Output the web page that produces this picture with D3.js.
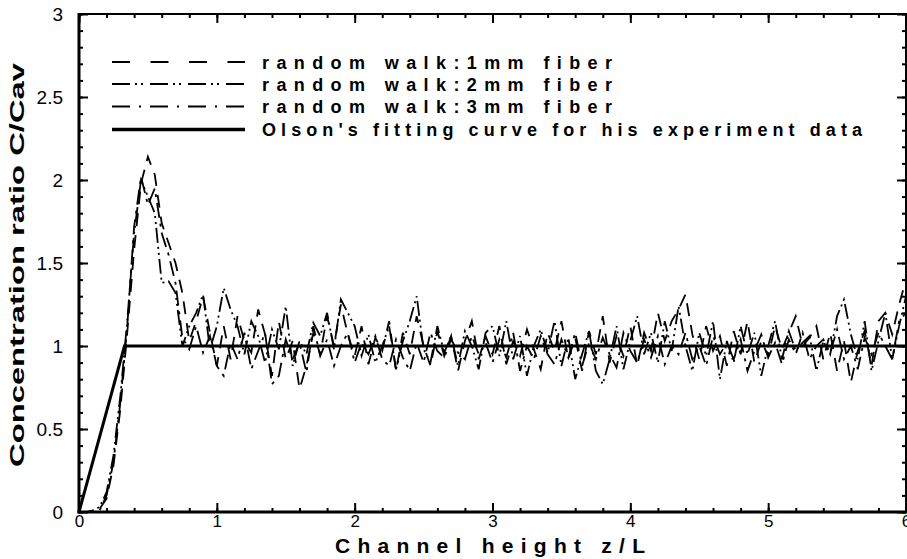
<!DOCTYPE html>
<html><head><meta charset="utf-8">
<script src="https://cdn.jsdelivr.net/npm/d3@7"></script>
<style>
body{margin:0;background:#fff;}
svg{display:block;}
</style></head>
<body>
<svg id="c" width="907" height="559"></svg>
<script>
const zValues = [0,0.05,0.1,0.15,0.2,0.25,0.3,0.35,0.4,0.45,0.5,0.55,0.6,0.65,0.7,0.75,0.8,0.85,0.9,0.95,
1,1.05,1.1,1.15,1.2,1.25,1.3,1.35,1.4,1.45,1.5,1.55,1.6,1.65,1.7,1.75,1.8,1.85,1.9,1.95,
2,2.05,2.1,2.15,2.2,2.25,2.3,2.35,2.4,2.45,2.5,2.55,2.6,2.65,2.7,2.75,2.8,2.85,2.9,2.95,
3,3.05,3.1,3.15,3.2,3.25,3.3,3.35,3.4,3.45,3.5,3.55,3.6,3.65,3.7,3.75,3.8,3.85,3.9,3.95,
4,4.05,4.1,4.15,4.2,4.25,4.3,4.35,4.4,4.45,4.5,4.55,4.6,4.65,4.7,4.75,4.8,4.85,4.9,4.95,
5,5.05,5.1,5.15,5.2,5.25,5.3,5.35,5.4,5.45,5.5,5.55,5.6,5.65,5.7,5.75,5.8,5.85,5.9,5.95,6];

const walk1mm = [0,0,0,0.02,0.08,0.28,0.62,1.08,1.58,1.98,2.14,2.03,1.74,1.62,1.5,1.32,
1.03,1.15,1.3,1.08,
0.88,1.12,0.92,1.18,1.03,0.96,1.22,1.07,0.82,1.15,0.92,1.03,0.74,0.88,1.08,0.95,1.18,1.0,1.25,1.07,
0.94,1.12,0.89,1.05,0.97,1.15,0.85,1.08,0.95,1.18,1.0,0.88,1.09,0.94,1.06,0.85,1.03,1.15,0.92,1.06,
0.95,1.12,0.89,1.03,0.94,1.1,0.98,0.86,1.08,0.97,1.15,0.92,1.05,0.85,1.09,0.95,1.18,0.9,1.06,0.94,
1.12,0.88,1.08,0.97,1.2,1.03,1.15,1.22,1.31,1.07,0.92,1.12,0.97,1.06,0.88,1.09,0.95,1.15,0.9,1.03,
0.94,1.12,0.98,1.08,1.18,1.0,1.05,1.12,0.92,1.08,0.85,1.03,0.78,0.97,1.09,0.88,1.15,1.2,1.07,1.25,1.4];

const walk2mm = [0,0,0.01,0.03,0.12,0.34,0.7,1.15,1.68,2.0,1.9,1.8,1.38,1.39,1.32,1.0,
1.12,1.2,1.31,0.98,
1.12,1.35,1.22,1.12,0.95,1.15,1.06,0.9,1.1,0.98,1.24,0.88,1.03,0.95,1.14,1.06,1.2,0.98,1.28,1.2,
1.12,0.94,1.07,0.9,1.0,1.12,0.86,1.03,1.15,1.3,0.98,0.9,1.12,0.96,1.06,0.88,1.09,1.0,0.86,1.08,
1.12,0.94,1.15,0.92,1.06,0.82,1.0,1.1,0.96,1.15,0.88,1.05,0.8,0.95,1.09,0.85,0.77,0.92,1.12,0.86,
1.03,1.18,0.95,1.08,0.9,1.15,0.97,1.24,1.0,0.85,1.08,0.94,1.15,0.8,1.03,0.9,1.12,0.95,1.08,0.82,
1.0,1.15,0.92,1.09,0.97,1.02,1.06,0.85,1.03,0.95,1.18,1.28,1.07,0.92,1.15,0.85,1.03,1.2,0.92,1.12,1.3];

const walk3mm = [0,0,0,0.01,0.1,0.3,0.66,1.12,1.72,2.02,1.85,1.95,1.68,1.55,1.38,1.05,
0.98,1.12,0.96,1.06,
0.88,0.82,1.02,0.92,1.08,0.86,0.97,1.08,0.77,0.82,1.04,0.92,1.02,0.84,1.12,0.94,1.04,0.88,1.0,1.08,
0.9,1.02,0.95,1.06,0.92,0.88,1.04,0.93,0.85,1.02,0.9,1.08,0.97,0.93,1.04,0.96,0.92,1.06,0.95,1.02,
0.9,1.04,0.93,1.08,0.85,1.0,0.92,1.06,0.95,0.89,1.04,0.93,1.08,0.88,1.02,0.92,1.05,0.95,0.87,1.08,
0.97,0.9,1.04,0.93,1.06,0.89,1.0,0.95,1.08,0.92,1.0,0.88,1.06,0.95,1.02,0.92,1.04,0.85,0.97,1.07,
0.93,1.02,0.89,1.04,0.95,1.08,0.92,1.0,1.04,0.96,1.1,0.92,1.0,0.86,1.05,0.95,1.08,1.0,0.92,1.15,1.2];

const olsonZ = [0, 0.33, 6];
const olsonC = [0, 1, 1];

const xTicks = [0,1,2,3,4,5,6];
const yTicks = [0,0.5,1,1.5,2,2.5,3];
const yTickLabels = ["0","0.5","1","1.5","2","2.5","3"];

const legendLabels = ["random walk:1mm fiber","random walk:2mm fiber","random walk:3mm fiber","Olson's fitting curve for his experiment data"];

const svg = d3.select("#c");
const L = 79, R = 906, T = 14, B = 512;
const x = d3.scaleLinear().domain([0,6]).range([L,R]);
const y = d3.scaleLinear().domain([0,3]).range([B,T]);
const font = "'Liberation Sans Narrow','Liberation Sans',Arial,sans-serif";
const boldFont = "'Liberation Sans',Arial,sans-serif";

const plotDash = ["13,9", "15,4,2,4,2,4", "15,6,3,6", null];
const legDash = ["18,20.5", "18,5,2,4,2,7", "18,9,2,9", null];

const g = svg.append("g");

// data lines
const line = d3.line().x(d=>x(d[0])).y(d=>y(d[1]));
const series = [walk1mm, walk2mm, walk3mm];
series.forEach((s,i)=>{
  g.append("path").datum(zValues.map((z,j)=>[z,s[j]]))
   .attr("d", line).attr("fill","none").attr("stroke","#000")
   .attr("stroke-width",1.8).attr("stroke-dasharray", plotDash[i]);
});
g.append("path").datum(olsonZ.map((z,j)=>[z,olsonC[j]]))
 .attr("d", line).attr("fill","none").attr("stroke","#000").attr("stroke-width",3);

// axes
const minorX = d3.range(0, 6.0001, 0.2);
const minorY = d3.range(0, 3.0001, 0.1);
function styleAxis(sel){ sel.select(".domain").remove(); sel.selectAll("line").attr("stroke","#000").attr("stroke-width",2); }

svg.append("g").attr("transform",`translate(0,${B})`)
  .call(d3.axisBottom(x).tickValues(minorX).tickSize(-4).tickFormat("")).call(styleAxis);
svg.append("g").attr("transform",`translate(0,${B})`)
  .call(d3.axisBottom(x).tickValues(xTicks).tickSize(-9).tickPadding(3).tickFormat(d3.format("d")))
  .call(styleAxis)
  .call(s=>s.selectAll("text").attr("font-family",font).attr("font-size",17).attr("fill","#000"));
svg.append("g").attr("transform",`translate(0,${T})`)
  .call(d3.axisTop(x).tickValues(minorX).tickSize(-4).tickFormat("")).call(styleAxis);
svg.append("g").attr("transform",`translate(0,${T})`)
  .call(d3.axisTop(x).tickValues(xTicks).tickSize(-9).tickFormat("")).call(styleAxis);

svg.append("g").attr("transform",`translate(${L},0)`)
  .call(d3.axisLeft(y).tickValues(minorY).tickSize(-4).tickFormat("")).call(styleAxis);
svg.append("g").attr("transform",`translate(${L},0)`)
  .call(d3.axisLeft(y).tickValues(yTicks).tickSize(-9).tickPadding(16).tickFormat((d,i)=>yTickLabels[i]))
  .call(styleAxis)
  .call(s=>s.selectAll("text").attr("font-family",font).attr("font-size",19).attr("fill","#000"));
svg.append("g").attr("transform",`translate(${R},0)`)
  .call(d3.axisRight(y).tickValues(minorY).tickSize(-4).tickFormat("")).call(styleAxis);
svg.append("g").attr("transform",`translate(${R},0)`)
  .call(d3.axisRight(y).tickValues(yTicks).tickSize(-9).tickFormat("")).call(styleAxis);

// frame
svg.append("line").attr("x1",L).attr("x2",L).attr("y1",T-1).attr("y2",B+1.5).attr("stroke","#000").attr("stroke-width",3);
svg.append("line").attr("x1",L-1.5).attr("x2",R+1).attr("y1",B).attr("y2",B).attr("stroke","#000").attr("stroke-width",3);
svg.append("line").attr("x1",L).attr("x2",R+1).attr("y1",T).attr("y2",T).attr("stroke","#000").attr("stroke-width",2);
svg.append("line").attr("x1",R).attr("x2",R).attr("y1",T).attr("y2",B).attr("stroke","#000").attr("stroke-width",2);

// legend
const legY = [62, 84, 106.5, 129.5];
const legWidths = [350, 350, 350, 600];
legendLabels.forEach((lab,i)=>{
  svg.append("line").attr("x1",112).attr("x2",245).attr("y1",legY[i]).attr("y2",legY[i])
    .attr("stroke","#000").attr("stroke-width", i===3?3.5:2)
    .attr("stroke-dasharray", legDash[i]);
  svg.append("text").attr("x",262).attr("y",legY[i]+6.5).text(lab)
    .attr("font-family",boldFont).attr("font-weight","bold")
    .attr("font-size",18).attr("textLength",legWidths[i]).attr("lengthAdjust","spacing");
});

// axis titles
svg.append("text").attr("x",335).attr("y",553).text("Channel height z/L")
  .attr("font-family",boldFont).attr("font-weight","bold")
  .attr("font-size",21).attr("textLength",310).attr("lengthAdjust","spacing");
svg.append("text").attr("transform",`translate(24,265) rotate(-90)`).attr("text-anchor","middle")
  .text("Concentration ratio C/Cav")
  .attr("font-family",boldFont).attr("font-weight","bold").attr("font-size",21)
  .attr("textLength",404).attr("lengthAdjust","spacingAndGlyphs");
</script>
</body></html>
